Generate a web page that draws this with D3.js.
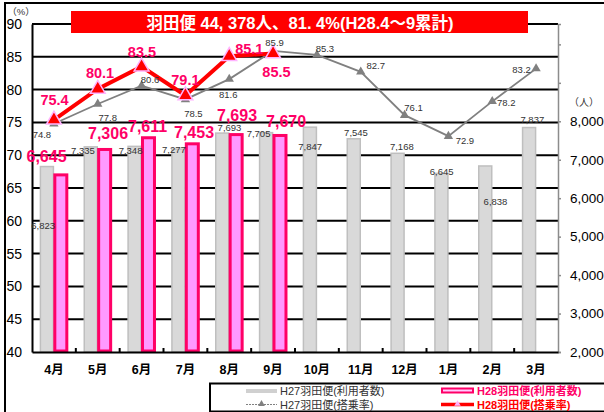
<!DOCTYPE html>
<html><head><meta charset="utf-8">
<script src="https://cdn.jsdelivr.net/npm/d3@7"></script>
<style>body{margin:0;background:#fff}svg{display:block}</style>
</head><body>
<script>
const months = ["4月","5月","6月","7月","8月","9月","10月","11月","12月","1月","2月","3月"];
const h27Users = [6823,7335,7348,7277,7693,7705,7847,7545,7168,6645,6838,7837];
const h28Users = [6645,7306,7611,7453,7693,7670];
const h27Rate = [74.8,77.8,80.6,78.5,81.6,85.9,85.3,82.7,76.1,72.9,78.2,83.2];
const h28Rate = [75.4,80.1,83.5,79.1,85.1,85.5];
const leftTicks = [40,45,50,55,60,65,70,75,80,85,90];
const rightTicks = [2000,3000,4000,5000,6000,7000,8000];
const rightTickMarks = [2000,3000,4000,5000,6000,7000,8000,9000,10000];
const titleText = "羽田便 44, 378人、81. 4%(H28.4～9累計)";
const legendLabels = ["H27羽田便(利用者数)","H27羽田便(搭乗率)","H28羽田便(利用者数)","H28羽田便(搭乗率)"];

// label placement offsets (layout only)
const h27RateOff = [[-12,11],[10,13.5],[8.5,-6],[8,14],[-1,15.5],[1.5,-8.5],[8,-6.5],[15,-6.5],[9,-8],[16.5,4],[14,1.5],[-14.5,1]];
const h27UserOff = [[-4,59],[-8,4],[-4.3,4.4],[-4.7,0],[7,-5.4],[-7.8,1],[0,19],[2,-6],[4,-6.5],[0,-2],[10,35.5],[3,-8]];
const h28RateOff = [[0.6,-20],[2.3,-16],[0.4,-14.5],[0,-16],[20,-7.5],[3.4,18]];
const h28UserOff = [[-14.4,-17],[3.3,-14],[-1,-9.5],[1.6,-9.6],[0.8,-17.4],[6,-12.6]];

const W=604,H=412;
const L=32,R=558,T=24,B=352;
const FONT = "'Liberation Sans', Arial, 'Noto Sans CJK JP', sans-serif";
const svg = d3.select("body").append("svg").attr("width",W).attr("height",H)
  .style("font-family",FONT);

// outer border
svg.append("rect").attr("x",5).attr("y",3).attr("width",640).attr("height",440)
  .attr("fill","none").attr("stroke","#000").attr("stroke-width",2);

const x = d3.scaleBand().domain(months).range([L,R]);
const yL = d3.scaleLinear().domain([40,90]).range([B,T]);
const yR = d3.scaleLinear().domain([2000,10530]).range([B,T]);
const cx = m => x(m)+x.bandwidth()/2;

// gridlines
svg.append("g").selectAll("line").data(leftTicks.filter(t=>t>40)).join("line")
  .attr("x1",L).attr("x2",R).attr("y1",d=>yL(d)).attr("y2",d=>yL(d))
  .attr("stroke","#000").attr("stroke-width",2);

// left axis
const gl = svg.append("g").attr("transform",`translate(${L},0)`)
  .call(d3.axisLeft(yL).tickValues(leftTicks).tickSize(0).tickPadding(10));
gl.select(".domain").attr("stroke","#000").attr("stroke-width",2);
gl.selectAll("text").attr("font-size",14).attr("fill","#000").attr("font-family",FONT);

// right axis
const gr = svg.append("g").attr("transform",`translate(${R},0)`)
  .call(d3.axisRight(yR).tickValues(rightTickMarks).tickSize(3).tickPadding(9)
    .tickFormat(d=> d<=8000 ? d3.format(",")(d) : ""));
gr.select(".domain").attr("stroke","#8c8c8c").attr("stroke-width",1.5);
gr.selectAll(".tick line").attr("stroke","#8c8c8c").attr("stroke-width",1.5);
gr.selectAll("text").attr("font-size",13.5).attr("fill","#000").attr("font-family",FONT);

// bars
const gw = 13;
svg.append("g").selectAll("rect").data(h27Users).join("rect")
  .attr("x",(d,i)=>cx(months[i])-13.5).attr("width",gw)
  .attr("y",d=>yR(d)).attr("height",d=>yR(2000)-yR(d))
  .attr("fill","#d9d9d9").attr("stroke","#bfbfbf").attr("stroke-width",1.5);
svg.append("g").selectAll("rect").data(h28Users).join("rect")
  .attr("x",(d,i)=>cx(months[i])+0.9).attr("width",12)
  .attr("y",d=>yR(d)+1.5).attr("height",d=>yR(2000)-yR(d)-2.5)
  .attr("fill","#ff99ff").attr("stroke","#ff0066").attr("stroke-width",3);

// bottom axis
const gb = svg.append("g").attr("transform",`translate(0,${B})`)
  .call(d3.axisBottom(x).tickSize(0).tickPadding(13));
gb.select(".domain").attr("stroke","#000").attr("stroke-width",2);
gb.selectAll("text").attr("font-size",12.5).attr("font-weight","bold").attr("fill","#000").attr("font-family",FONT);
svg.append("g").selectAll("line").data(months.slice(1)).join("line")
  .attr("x1",d=>x(d)).attr("x2",d=>x(d)).attr("y1",B).attr("y2",B-4)
  .attr("stroke","#000").attr("stroke-width",2);

// H27 rate line
const line27 = d3.line().x((d,i)=>cx(months[i])).y(d=>yL(d));
svg.append("path").datum(h27Rate).attr("d",line27).attr("fill","none")
  .attr("stroke","#808080").attr("stroke-width",1.8);
svg.append("g").selectAll("path").data(h27Rate).join("path")
  .attr("d",d3.symbol(d3.symbolTriangle,38))
  .attr("transform",(d,i)=>`translate(${cx(months[i])},${yL(d)})`)
  .attr("fill","#808080");

// H28 rate line
svg.append("path").datum(h28Rate).attr("d",line27).attr("fill","none")
  .attr("stroke","#ff0000").attr("stroke-width",4);
svg.append("g").selectAll("path").data(h28Rate).join("path")
  .attr("d",d3.symbol(d3.symbolTriangle,95))
  .attr("transform",(d,i)=>`translate(${cx(months[i])},${yL(d)})`)
  .attr("fill","#ff0000").attr("stroke","#ffb3ff").attr("stroke-width",1.5);

// H27 labels
const small = {size:9.5, fill:"#333"};
svg.append("g").selectAll("text").data(h27Rate).join("text")
  .attr("x",(d,i)=>cx(months[i])+h27RateOff[i][0])
  .attr("y",(d,i)=>yL(d)+h27RateOff[i][1])
  .attr("text-anchor","middle").attr("dominant-baseline","central")
  .attr("font-size",small.size).attr("fill",small.fill).text(d=>d.toFixed(1));
svg.append("g").selectAll("text").data(h27Users).join("text")
  .attr("x",(d,i)=>cx(months[i])-6.75+h27UserOff[i][0])
  .attr("y",(d,i)=>yR(d)+h27UserOff[i][1])
  .attr("text-anchor","middle").attr("dominant-baseline","central")
  .attr("font-size",small.size).attr("fill",small.fill).text(d=>d3.format(",")(d));

// H28 labels
svg.append("g").selectAll("text").data(h28Rate).join("text")
  .attr("x",(d,i)=>cx(months[i])+h28RateOff[i][0])
  .attr("y",(d,i)=>yL(d)+h28RateOff[i][1])
  .attr("text-anchor","middle").attr("dominant-baseline","central")
  .attr("font-size",14.5).attr("font-weight","bold").attr("fill","#ff0066").text(d=>d.toFixed(1));
svg.append("g").selectAll("text").data(h28Users).join("text")
  .attr("x",(d,i)=>cx(months[i])+7+h28UserOff[i][0])
  .attr("y",(d,i)=>yR(d)+h28UserOff[i][1])
  .attr("text-anchor","middle").attr("dominant-baseline","central")
  .attr("font-size",16).attr("font-weight","bold").attr("fill","#ff0066").text(d=>d3.format(",")(d));

// unit labels
svg.append("text").attr("x",21).attr("y",11).attr("text-anchor","middle").attr("dominant-baseline","central")
  .attr("font-size",9.5).attr("fill","#333").text("（%）");
svg.append("text").attr("x",584).attr("y",102).attr("text-anchor","middle").attr("dominant-baseline","central")
  .attr("font-size",10).attr("fill","#333").text("（人）");

// title
svg.append("rect").attr("x",71).attr("y",11).attr("width",457).attr("height",22).attr("fill","#ff0000");
svg.append("text").attr("x",300).attr("y",22.5).attr("text-anchor","middle").attr("dominant-baseline","central")
  .attr("font-size",16.5).attr("font-weight","bold").attr("fill","#fff").text(titleText);

// legend
const lg = svg.append("g");
lg.append("rect").attr("x",210).attr("y",383.5).attr("width",420).attr("height",28)
  .attr("fill","#fff").attr("stroke","#000").attr("stroke-width",2);
lg.append("rect").attr("x",246).attr("y",389).attr("width",31).attr("height",4).attr("fill","#d0d0d0");
lg.append("line").attr("x1",246).attr("x2",277).attr("y1",404.5).attr("y2",404.5)
  .attr("stroke","#808080").attr("stroke-width",1.2).attr("stroke-dasharray","2,1");
lg.append("path").attr("d",d3.symbol(d3.symbolTriangle,20)).attr("transform","translate(261.5,404)").attr("fill","#808080");
lg.append("rect").attr("x",442).attr("y",388.5).attr("width",31).attr("height",4)
  .attr("fill","#ffccff").attr("stroke","#ff0066").attr("stroke-width",2);
lg.append("line").attr("x1",441).attr("x2",474).attr("y1",404.5).attr("y2",404.5)
  .attr("stroke","#ff0000").attr("stroke-width",3.5);
lg.append("path").attr("d",d3.symbol(d3.symbolTriangle,18)).attr("transform","translate(457.5,404)")
  .attr("fill","#ffb3ff");
const legText = [[280,391,"#333","normal"],[280,404.5,"#333","normal"],[477,391,"#ff0066","bold"],[477,404.5,"#ff0000","bold"]];
lg.selectAll("text.l").data(legendLabels).join("text").attr("class","l")
  .attr("x",(d,i)=>legText[i][0]).attr("y",(d,i)=>legText[i][1])
  .attr("dominant-baseline","central").attr("font-size",11)
  .attr("fill",(d,i)=>legText[i][2]).attr("font-weight",(d,i)=>legText[i][3]).text(d=>d);
</script>
</body></html>
